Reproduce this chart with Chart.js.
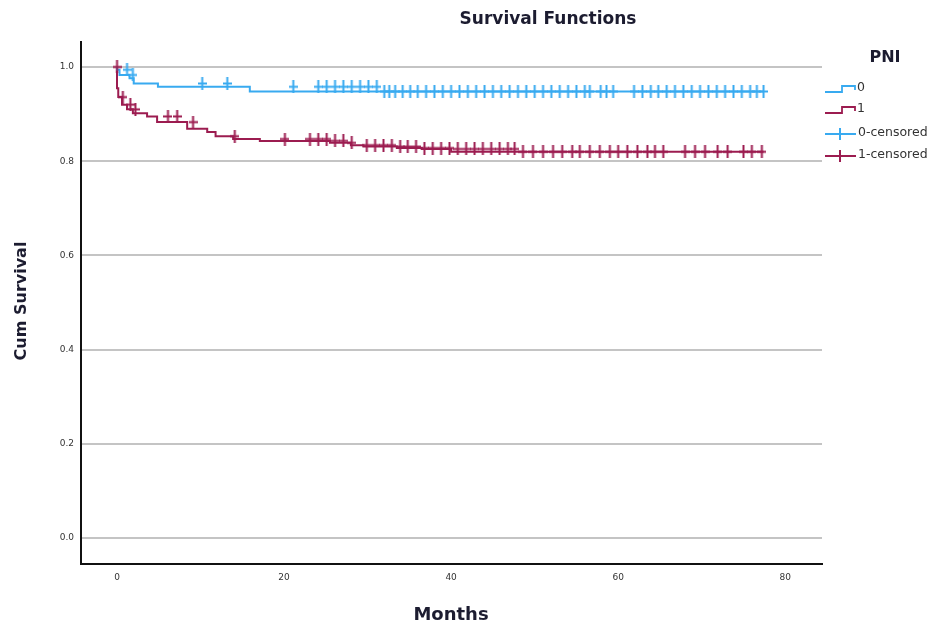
<!DOCTYPE html>
<html>
<head>
<meta charset="utf-8">
<script src="https://cdn.jsdelivr.net/npm/chart.js@4.4.1/dist/chart.umd.min.js"></script>
<style>
  html, body { margin: 0; padding: 0; background: #ffffff; }
  #wrap { width: 942px; height: 626px; position: relative; }
</style>
</head>
<body>
<div id="wrap"><canvas id="c" width="942" height="626"></canvas></div>
<script>
// ---- Data ----
const chartTitle = "Survival Functions";
const xTitle = "Months";
const yTitle = "Cum Survival";
const legendTitle = "PNI";
const groupLabels = ["0", "1"];
const censorLabels = ["0-censored", "1-censored"];
const xTicks = [0, 20, 40, 60, 80];
const yTicks = [0.0, 0.2, 0.4, 0.6, 0.8, 1.0];

// Group PNI = 0 : step times (months) and cumulative survival
const pni0Times = [0, 0.3, 1.5, 2.0, 4.9, 15.9, 31.5, 77.4];
const pni0Surv  = [1.0, 0.994, 0.983, 0.976, 0.965, 0.958, 0.948, 0.948];
// Group PNI = 1
const pni1Times = [0, 0.15, 0.6, 1.2, 1.9, 3.6, 4.8, 8.4, 10.8, 11.8, 13.9, 17.1, 25.5, 28.0, 29.5, 33.5, 36.5, 40.0, 47.9, 77.4];
const pni1Surv  = [1.0, 0.955, 0.936, 0.92, 0.91, 0.902, 0.895, 0.883, 0.869, 0.862, 0.853, 0.847, 0.843, 0.839, 0.834, 0.831, 0.828, 0.826, 0.820, 0.820];

// Censoring times (months)
const pni0Censored = [1.2, 1.9, 10.2, 13.2, 21.1, 24.1, 25.1, 26.1, 27.1, 28.1, 29.1, 30.1, 31.1,
  32.0, 32.6, 33.3, 34.2, 35.1, 36.0, 37.0, 38.0, 39.0, 40.0, 41.0, 42.0, 43.0, 44.0, 45.0, 46.0,
  47.0, 48.0, 49.0, 50.0, 51.0, 52.0, 53.0, 54.0, 55.0, 56.0, 56.6, 57.9, 58.6, 59.4, 61.9, 62.9,
  63.9, 64.8, 65.8, 66.8, 67.8, 68.8, 69.8, 70.8, 71.8, 72.8, 73.8, 74.8, 75.8, 76.6, 77.4];
const pni1Censored = [0, 0.7, 1.6, 2.2, 6.1, 7.2, 9.1, 14.1, 20.1, 23.1, 24.1, 25.1, 26.1, 27.1, 28.1,
  29.9, 30.9, 31.9, 32.9, 33.9, 34.8, 35.8, 36.8, 37.8, 38.8, 39.8, 40.8, 41.8, 42.8, 43.8, 44.8,
  45.8, 46.8, 47.6, 48.6, 49.8, 51.0, 52.2, 53.3, 54.5, 55.4, 56.6, 57.8, 59.0, 60.0, 61.1, 62.3,
  63.5, 64.4, 65.4, 68.0, 69.2, 70.4, 71.9, 73.1, 75.0, 76.0, 77.2];

// ---- Styles ----
const blue = "#38aaf0";
const red = "#9c1c50";

function stepValue(times, surv, t) {
  let v = surv[0];
  for (let i = 0; i < times.length; i++) { if (times[i] <= t + 1e-9) v = surv[i]; }
  return v;
}
function toXY(times, vals) { return times.map((t, i) => ({ x: t, y: vals[i] })); }
function censorXY(ct, times, surv) { return ct.map(t => ({ x: t, y: stepValue(times, surv, t) })); }

function crossImg(color) {
  const c = document.createElement("canvas");
  c.width = 9; c.height = 13;
  const g = c.getContext("2d");
  g.strokeStyle = color; g.lineWidth = 2;
  g.beginPath(); g.moveTo(4.5, 0); g.lineTo(4.5, 13); g.stroke();
  g.beginPath(); g.moveTo(0, 6.5); g.lineTo(9, 6.5); g.stroke();
  return c;
}

const overlay = {
  id: "overlay",
  afterDraw(chart) {
    const ctx = chart.ctx;
    ctx.save();
    ctx.fillStyle = "#1c1c30";
    ctx.textAlign = "center"; ctx.textBaseline = "middle";
    ctx.font = 'bold 17px "DejaVu Sans"';
    ctx.fillText(chartTitle, 548, 20);
    ctx.font = 'bold 18px "DejaVu Sans"';
    ctx.fillText(xTitle, 451, 615);
    ctx.save();
    ctx.translate(22, 301); ctx.rotate(-Math.PI / 2);
    ctx.font = 'bold 16px "DejaVu Sans"';
    ctx.fillText(yTitle, 0, 0);
    ctx.restore();
    // Legend
    ctx.font = 'bold 16px "DejaVu Sans"';
    ctx.fillText(legendTitle, 885, 58);
    ctx.textAlign = "left";
    ctx.font = '12.5px "DejaVu Sans"';
    ctx.fillStyle = "#333";
    const rows = [88, 109, 133, 155];
    const cols = [blue, red];
    ctx.lineWidth = 1.8;
    for (let i = 0; i < 2; i++) {
      const y = rows[i];
      ctx.strokeStyle = cols[i];
      ctx.beginPath();
      ctx.moveTo(825, y + 4); ctx.lineTo(842, y + 4); ctx.lineTo(842, y - 2);
      ctx.lineTo(855, y - 2); ctx.lineTo(855, y + 2);
      ctx.stroke();
      ctx.fillText(groupLabels[i], 857, y);
    }
    for (let i = 0; i < 2; i++) {
      const y = rows[i + 2];
      ctx.strokeStyle = cols[i]; ctx.lineWidth = 2;
      ctx.beginPath(); ctx.moveTo(825, y + 1); ctx.lineTo(856, y + 1); ctx.stroke();
      ctx.beginPath(); ctx.moveTo(840, y - 5); ctx.lineTo(840, y + 7); ctx.stroke();
      ctx.fillText(censorLabels[i], 858, y);
    }
    ctx.restore();
  }
};

new Chart(document.getElementById("c"), {
  type: "line",
  data: {
    datasets: [
      { label: groupLabels[0], data: toXY(pni0Times, pni0Surv), stepped: "after",
        borderColor: blue, borderWidth: 2, pointRadius: 0, fill: false, order: 2 },
      { label: groupLabels[1], data: toXY(pni1Times, pni1Surv), stepped: "after",
        borderColor: red, borderWidth: 2, pointRadius: 0, fill: false, order: 2 },
      { label: censorLabels[0], data: censorXY(pni0Censored, pni0Times, pni0Surv), showLine: false,
        pointStyle: crossImg(blue), pointRadius: 5, order: 1 },
      { label: censorLabels[1], data: censorXY(pni1Censored, pni1Times, pni1Surv), showLine: false,
        pointStyle: crossImg(red), pointRadius: 5, order: 0 }
    ]
  },
  options: {
    responsive: false,
    animation: false,
    layout: { padding: { top: 42, right: 120, left: 0, bottom: 0 } },
    plugins: { legend: { display: false }, title: { display: false }, tooltip: { enabled: false } },
    scales: {
      x: {
        type: "linear", min: -4.31, max: 84.4,
        afterBuildTicks: s => { s.ticks = xTicks.map(v => ({ value: v })); },
        afterFit: s => { s.height = 62; },
        grid: { display: false, drawTicks: false },
        border: { display: true, color: "#111", width: 2 },
        ticks: { padding: 8, color: "#333", font: { size: 9, family: "DejaVu Sans" }, maxRotation: 0,
                 callback: v => String(v) }
      },
      y: {
        type: "linear", min: -0.055, max: 1.053,
        afterBuildTicks: s => { s.ticks = yTicks.map(v => ({ value: v })); },
        afterFit: s => { s.width = 81; },
        grid: { display: true, color: "#c4c4c4", lineWidth: 2, drawTicks: false },
        border: { display: true, color: "#111", width: 2 },
        ticks: { padding: 7, color: "#333", font: { size: 9, family: "DejaVu Sans" },
                 callback: v => Number(v).toFixed(1) }
      }
    }
  },
  plugins: [overlay]
});
</script>
</body>
</html>
